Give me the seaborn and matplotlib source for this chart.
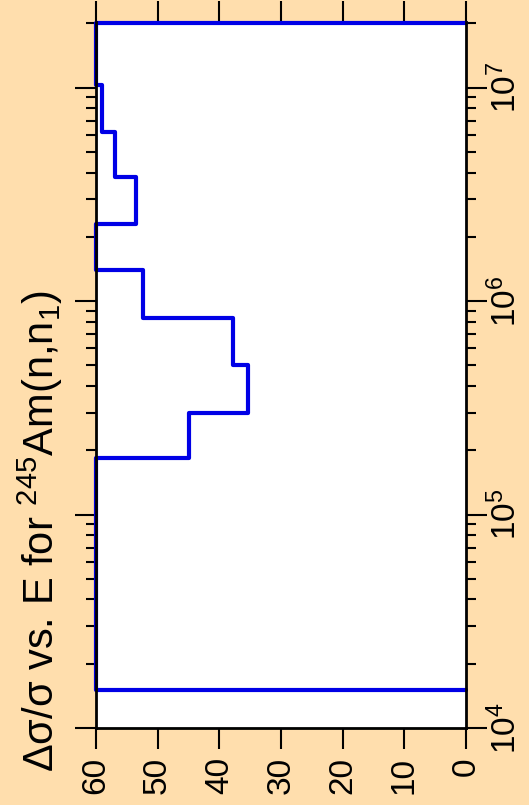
import numpy as np
import pandas as pd
import matplotlib
matplotlib.use("Agg")
import matplotlib.pyplot as plt
from matplotlib.ticker import LogLocator, FixedLocator
import seaborn as sns

# bin edges (eV) and relative uncertainty (%)
edges = [1.5e4, 1.85e5, 3.0e5, 5.0e5, 8.3e5, 1.4e6, 2.3e6, 3.8e6, 6.2e6, 1.03e7, 2.0e7]
values = [60, 45, 35.3, 37.8, 52.3, 60, 53.5, 56.9, 59.1, 60]
x_ticks = [60, 50, 40, 30, 20, 10, 0]
e_ticks = [1e4, 1e5, 1e6, 1e7]
e_labels = ['$10^{4}$', '$10^{5}$', '$10^{6}$', '$10^{7}$']

sns.set_theme(style="ticks")
plt.rcParams['font.family'] = ['Liberation Sans', 'DejaVu Sans']
plt.rcParams['mathtext.fontset'] = 'custom'
plt.rcParams['mathtext.rm'] = 'Liberation Sans'
plt.rcParams['mathtext.it'] = 'Liberation Sans:italic'
plt.rcParams['mathtext.default'] = 'regular'

bg = '#FFDEAD'
fig = plt.figure(figsize=(5.29, 8.05), dpi=100, facecolor=bg)
ax = fig.add_axes([96 / 529, 77 / 805, 370 / 529, 706 / 805])
ax.set_facecolor('white')

# step outline, rotated: energy runs up the page
ys = [edges[0]] + list(np.repeat(edges[1:-1], 2)) + [edges[-1]]
xs = list(np.repeat(values, 2))
ys = [edges[0]] + ys + [edges[-1]]
xs = [0] + xs + [0]
steps = pd.DataFrame({'value': xs, 'energy': ys})
sns.lineplot(data=steps, x='value', y='energy', sort=False, estimator=None,
             orient='y', color='#0000E6', linewidth=3.0, ax=ax, clip_on=False)

ax.set_yscale('log')
ax.set_ylim(1e4, 2.03e7)
ax.set_xlim(60, 0)
ax.set_xlabel('')
ax.set_ylabel('')

for side in ['left', 'right', 'bottom']:
    ax.spines[side].set_color('black')
    ax.spines[side].set_linewidth(2.0)
    ax.spines[side].set_zorder(3)
ax.spines['top'].set_visible(False)

ax.xaxis.set_major_locator(FixedLocator(x_ticks))
ax.set_xticklabels([str(t) for t in x_ticks], rotation=90, fontsize=24)
ax.tick_params(axis='x', which='major', top=True, bottom=True, direction='out',
               length=15, width=1.5, color='black', pad=6, labeltop=False,
               labelcolor='black')

ax.yaxis.set_major_locator(FixedLocator(e_ticks))
ax.set_yticklabels(e_labels, rotation=90, va='center', fontsize=24)
ax.yaxis.set_minor_locator(LogLocator(base=10, subs=np.arange(2, 10)))
ax.yaxis.set_minor_formatter(plt.NullFormatter())
ax.tick_params(axis='y', which='major', left=True, right=True, direction='out',
               length=15, width=1.5, color='black', pad=1,
               labelleft=False, labelright=True, labelcolor='black')
ax.tick_params(axis='y', which='minor', left=True, right=True, direction='out',
               length=7.5, width=1.5, color='black')

fig.text(40 / 529, 33 / 805, r'$\Delta\sigma/\sigma$ vs. E for $^{245}$Am(n,n$_1$)',
         rotation=90, ha='center', va='bottom', fontsize=30, color='black')

fig.savefig('out.png', dpi=100, facecolor=bg)
